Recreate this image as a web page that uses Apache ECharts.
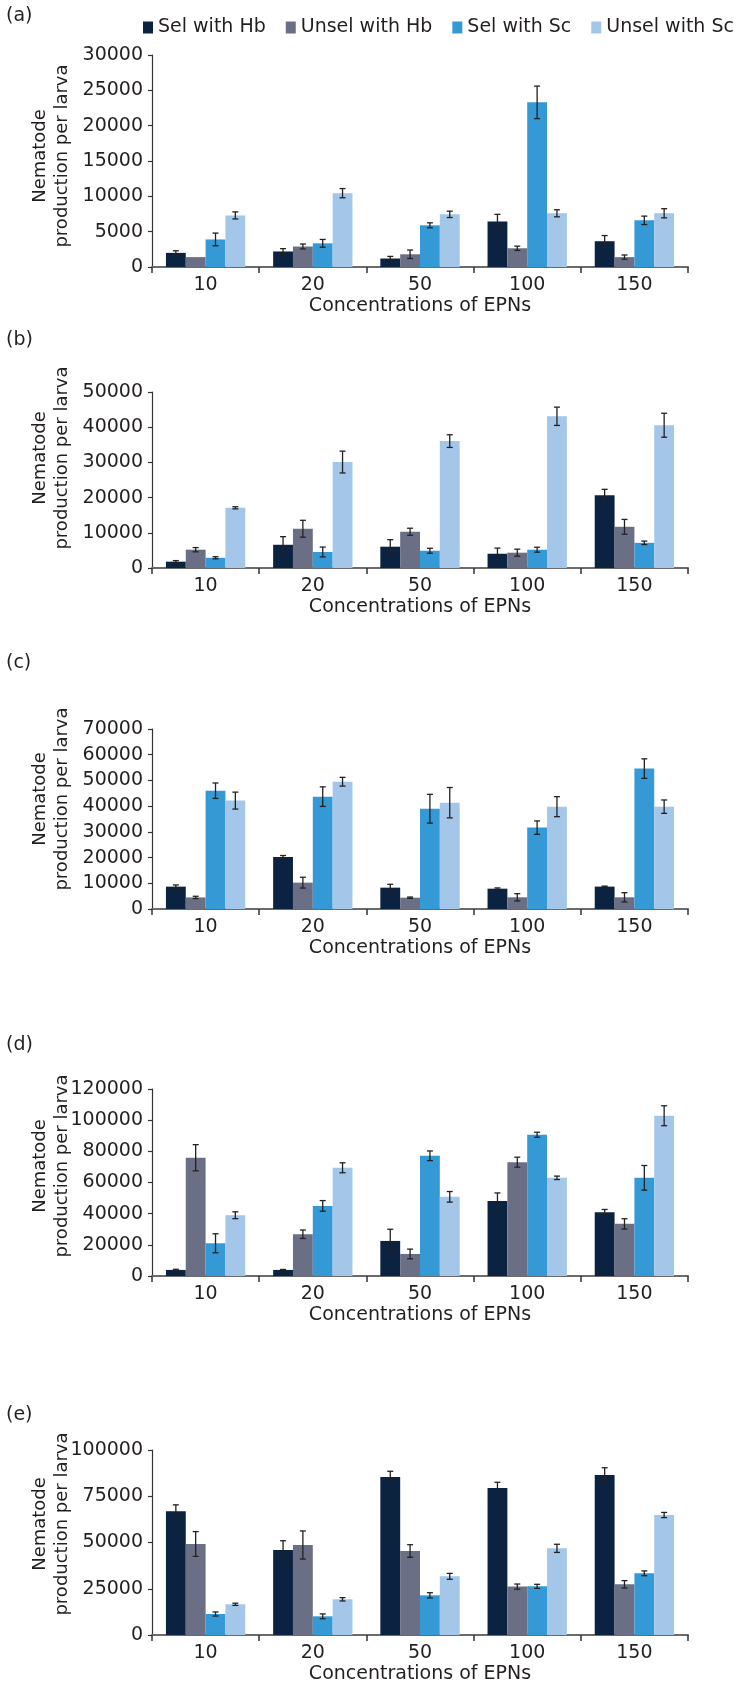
<!DOCTYPE html>
<html>
<head>
<meta charset="utf-8">
<script src="https://cdn.jsdelivr.net/npm/echarts@6/dist/echarts.min.js"></script>
<style>
  html, body { margin: 0; padding: 0; background: #fff; }
  #chart { width: 741px; height: 1685px; }
</style>
</head>
<body>
<div id="chart"></div>
<script>
const categories = ['10', '20', '50', '100', '150'];
const seriesNames = ['Sel with Hb', 'Unsel with Hb', 'Sel with Sc', 'Unsel with Sc'];
const panelLabels = ['(a)', '(b)', '(c)', '(d)', '(e)'];
const yMax = [30000, 50000, 70000, 120000, 100000];
const yStep = [5000, 10000, 10000, 20000, 25000];

// means, one row per series (Sel Hb, Unsel Hb, Sel Sc, Unsel Sc)
const meanA = [
  [2000, 2200, 1200, 6450, 3650],
  [1400, 2900, 1800, 2650, 1400],
  [3900, 3350, 5900, 23300, 6600],
  [7300, 10450, 7450, 7600, 7600]
];
const errA = [
  [300, 400, 300, 1000, 800],
  [0, 350, 600, 300, 300],
  [900, 550, 350, 2300, 600],
  [500, 650, 450, 500, 650]
];
const meanB = [
  [1800, 6600, 6050, 4050, 20650],
  [5200, 11150, 10300, 4350, 11700],
  [2900, 4550, 4900, 5200, 7150],
  [17100, 30100, 36050, 43100, 40550]
];
const errB = [
  [300, 2300, 2000, 1600, 1700],
  [600, 2400, 1000, 1000, 2100],
  [300, 1400, 700, 700, 500],
  [300, 3100, 1800, 2600, 3400]
];
const meanC = [
  [8700, 20200, 8300, 7900, 8700],
  [4500, 10250, 4400, 4550, 4550],
  [46000, 43700, 39000, 31650, 54600],
  [42150, 49500, 41350, 39800, 39800]
];
const errC = [
  [650, 600, 1300, 300, 200],
  [450, 2100, 250, 1400, 1800],
  [3000, 3800, 5600, 2600, 3800],
  [3300, 1700, 5900, 3900, 2600]
];
const meanD = [
  [3900, 3900, 22500, 48200, 40900],
  [75900, 26800, 14150, 73050, 33450],
  [21000, 45000, 77150, 90650, 63000],
  [39000, 69450, 50800, 63000, 102850]
];
const errD = [
  [400, 300, 7500, 5100, 1800],
  [8400, 2700, 3100, 3200, 3300],
  [6100, 3400, 3100, 1600, 7900],
  [2200, 3200, 3400, 1100, 6400]
];
const meanE = [
  [66850, 45950, 85400, 79450, 86500],
  [49200, 48650, 45400, 26150, 27400],
  [11350, 10100, 21450, 26300, 33350],
  [16600, 19300, 31700, 46850, 64850]
];
const errE = [
  [3500, 5000, 3100, 3100, 3900],
  [6700, 7600, 3400, 1400, 2000],
  [1100, 1300, 1400, 1100, 1300],
  [600, 900, 1600, 2200, 1400]
];

const means = [meanA, meanB, meanC, meanD, meanE];
const errs = [errA, errB, errC, errD, errE];
const colors = ['#0b2241', '#6a6f86', '#3599d6', '#a3c6e9'];

const FONT = 'DejaVu Sans';
const TXT = '#231f20';
const BAR_CAT_GAP = 0.26;

// plot areas (top of axis, height) for the five panels
const gridPos = [
  { top: 55, height: 212 },
  { top: 392, height: 176 },
  { top: 729, height: 180 },
  { top: 1089, height: 187 },
  { top: 1450, height: 185 }
];
const labelY = [16, 340, 663, 1045, 1415];
const nameY = [156, 458, 799, 1166, 1524];

const grid = [], xAxis = [], yAxis = [], series = [], graphic = [];

gridPos.forEach((g, p) => {
  grid.push({ left: 152, right: 53, top: g.top, height: g.height });
  xAxis.push({
    type: 'category',
    gridIndex: p,
    data: categories,
    axisLine: { lineStyle: { color: '#6b6b6b', width: 2 } },
    axisTick: { show: true, length: 6, lineStyle: { color: '#333', width: 1.5 } },
    axisLabel: { fontFamily: FONT, fontSize: 19, color: TXT, margin: 9 },
    name: 'Concentrations of EPNs',
    nameLocation: 'middle',
    nameGap: 30,
    nameTextStyle: { fontFamily: FONT, fontSize: 19, color: TXT }
  });
  yAxis.push({
    type: 'value',
    gridIndex: p,
    min: 0,
    max: yMax[p],
    interval: yStep[p],
    splitLine: { show: false },
    axisLine: { show: true, lineStyle: { color: '#333', width: 1.2 } },
    axisTick: { show: true, length: 4, lineStyle: { color: '#333', width: 1.2 } },
    axisLabel: {
      fontFamily: FONT, fontSize: 19, color: TXT, margin: 9,
      formatter: v => String(v)
    }
  });

  seriesNames.forEach((name, k) => {
    series.push({
      name: name,
      type: 'bar',
      xAxisIndex: p,
      yAxisIndex: p,
      data: means[p][k],
      barGap: '0%',
      barCategoryGap: (BAR_CAT_GAP * 100) + '%',
      itemStyle: { color: colors[k] },
      animation: false
    });
  });

  const errData = [];
  seriesNames.forEach((name, k) => {
    categories.forEach((c, i) => {
      errData.push([i, k, means[p][k][i], errs[p][k][i]]);
    });
  });
  series.push({
    type: 'custom',
    xAxisIndex: p,
    yAxisIndex: p,
    data: errData,
    encode: { x: 0, y: 2 },
    z: 10,
    silent: true,
    animation: false,
    renderItem: function (params, api) {
      const ci = api.value(0), k = api.value(1), v = api.value(2), e = api.value(3);
      if (!e) return null;
      const catW = api.size([1, 0])[0];
      const bw = catW * (1 - BAR_CAT_GAP) / 4;
      const x = api.coord([ci, 0])[0] + (k - 1.5) * bw;
      const hi = api.coord([ci, v + e])[1];
      const lo = api.coord([ci, v - e])[1];
      const st = { stroke: '#222', lineWidth: 1.3 };
      return {
        type: 'group',
        children: [
          { type: 'line', shape: { x1: x, y1: hi, x2: x, y2: lo }, style: st },
          { type: 'line', shape: { x1: x - 3, y1: hi, x2: x + 3, y2: hi }, style: st },
          { type: 'line', shape: { x1: x - 3, y1: lo, x2: x + 3, y2: lo }, style: st }
        ]
      };
    }
  });

  graphic.push({
    type: 'text', x: 6, y: labelY[p],
    style: { text: panelLabels[p], font: '19px "DejaVu Sans"', fill: TXT, textVerticalAlign: 'middle' }
  });
  graphic.push({
    type: 'text', x: 40, y: nameY[p], rotation: Math.PI / 2,
    style: { text: 'Nematode', font: '18px "DejaVu Sans"', fill: TXT, textAlign: 'center', textVerticalAlign: 'middle' }
  });
  graphic.push({
    type: 'text', x: 62, y: nameY[p], rotation: Math.PI / 2,
    style: { text: 'production per larva', font: '18px "DejaVu Sans"', fill: TXT, textAlign: 'center', textVerticalAlign: 'middle' }
  });
});

const chart = echarts.init(document.getElementById('chart'));
chart.setOption({
  animation: false,
  legend: {
    data: seriesNames,
    top: 18,
    left: 143,
    itemWidth: 10,
    itemHeight: 12,
    itemGap: 20,
    icon: 'rect',
    padding: 0,
    textStyle: { fontFamily: FONT, fontSize: 19, color: TXT }
  },
  grid: grid,
  xAxis: xAxis,
  yAxis: yAxis,
  series: series,
  graphic: graphic
});
</script>
</body>
</html>
